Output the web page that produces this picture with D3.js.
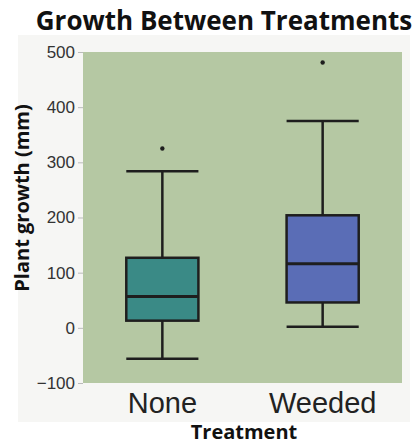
<!DOCTYPE html>
<html>
<head>
<meta charset="utf-8">
<script src="https://cdn.jsdelivr.net/npm/d3@7"></script>
<style>
  body { margin: 0; background: #fff; }
</style>
</head>
<body>
<div class="chart"></div>
<script>
// data
const treatments = ["None", "Weeded"];
const lowWhisker = [-56, 2];
const q1 = [13, 46];
const medians = [57, 116];
const q3 = [127, 204];
const highWhisker = [284, 375];
const outliers = [[325], [481]];
const yTicks = [-100, 0, 100, 200, 300, 400, 500];
const boxColors = ["#3a8a86", "#5a6db6"];

const width = 419;
const height = 446;
const margin = { top: 52, right: 17, bottom: 63, left: 83 };

const boxes = treatments.map((t, i) => ({
    name: t,
    lo: lowWhisker[i], q1: q1[i], med: medians[i], q3: q3[i], hi: highWhisker[i],
    out: outliers[i], color: boxColors[i]
}));

const svg = d3.select(".chart")
    .append("svg")
    .attr("width", width)
    .attr("height", height);

// light grey panel behind everything
svg.append("rect")
    .attr("x", 18).attr("y", 35)
    .attr("width", 392).attr("height", 387)
    .attr("fill", "#f6f6f4");

const x = d3.scaleBand()
    .domain(treatments)
    .range([margin.left, width - margin.right])
    .paddingInner(0.55)
    .paddingOuter(0.27);

const y = d3.scaleLinear()
    .domain([-100, 500])
    .range([height - margin.bottom, margin.top]);

svg.append("rect")
    .attr("x", margin.left)
    .attr("y", margin.top)
    .attr("width", width - margin.right - margin.left)
    .attr("height", y(-100) - y(500))
    .attr("fill", "#b5c8a3");

const yAxis = d3.axisLeft(y).tickValues(yTicks).tickSize(5).tickPadding(3);
svg.append("g")
    .attr("transform", `translate(${margin.left}, 0)`)
    .call(yAxis)
    .call(g => g.select(".domain").remove())
    .call(g => g.selectAll(".tick line").attr("stroke", "#bbb"))
    .selectAll(".tick text")
    .attr("font-family", "Liberation Sans, Arial, sans-serif")
    .attr("font-size", "17")
    .attr("fill", "#333");

const xAxis = d3.axisBottom(x).tickSize(0).tickPadding(9);
svg.append("g")
    .attr("transform", `translate(0, ${height - margin.bottom})`)
    .call(xAxis)
    .call(g => g.select(".domain").remove())
    .selectAll(".tick text")
    .attr("font-family", "Liberation Sans, Arial, sans-serif")
    .attr("font-size", "29")
    .attr("fill", "#222");

const stroke = "#1e1e1e";
const bw = x.bandwidth();

const g = svg.append("g")
    .selectAll("g")
    .data(boxes)
    .join("g")
    .attr("transform", d => `translate(${x(d.name)}, 0)`);

// whisker stem
g.append("line")
    .attr("x1", bw / 2).attr("x2", bw / 2)
    .attr("y1", d => y(d.lo)).attr("y2", d => y(d.hi))
    .attr("stroke", stroke).attr("stroke-width", 2.5);

// caps
g.selectAll("line.cap")
    .data(d => [d.lo, d.hi])
    .join("line")
    .attr("class", "cap")
    .attr("x1", 0).attr("x2", bw)
    .attr("y1", v => y(v)).attr("y2", v => y(v))
    .attr("stroke", stroke).attr("stroke-width", 2.5);

g.append("rect")
    .attr("x", 0)
    .attr("width", bw)
    .attr("y", d => y(d.q3))
    .attr("height", d => y(d.q1) - y(d.q3))
    .attr("fill", d => d.color)
    .attr("stroke", stroke)
    .attr("stroke-width", 2.5);

g.append("line")
    .attr("x1", 0).attr("x2", bw)
    .attr("y1", d => y(d.med)).attr("y2", d => y(d.med))
    .attr("stroke", stroke).attr("stroke-width", 3);

g.selectAll("circle")
    .data(d => d.out)
    .join("circle")
    .attr("cx", bw / 2)
    .attr("cy", v => y(v))
    .attr("r", 2.2)
    .attr("fill", stroke);

svg.append("text")
    .text("Growth Between Treatments")
    .attr("x", 224)
    .attr("y", 30)
    .attr("text-anchor", "middle")
    .attr("font-family", "Open Sans, sans-serif")
    .attr("font-weight", "bold")
    .attr("font-size", "26")
    .attr("fill", "#111");

svg.append("text")
    .text("Treatment")
    .attr("x", 244)
    .attr("y", 439)
    .attr("text-anchor", "middle")
    .attr("font-family", "Open Sans, sans-serif")
    .attr("font-weight", "bold")
    .attr("font-size", "20")
    .attr("fill", "#111");

svg.append("text")
    .text("Plant growth (mm)")
    .attr("transform", "translate(29, 198) rotate(-90)")
    .attr("text-anchor", "middle")
    .attr("font-family", "Open Sans, sans-serif")
    .attr("font-weight", "bold")
    .attr("font-size", "20")
    .attr("fill", "#111");
</script>
</body>
</html>
